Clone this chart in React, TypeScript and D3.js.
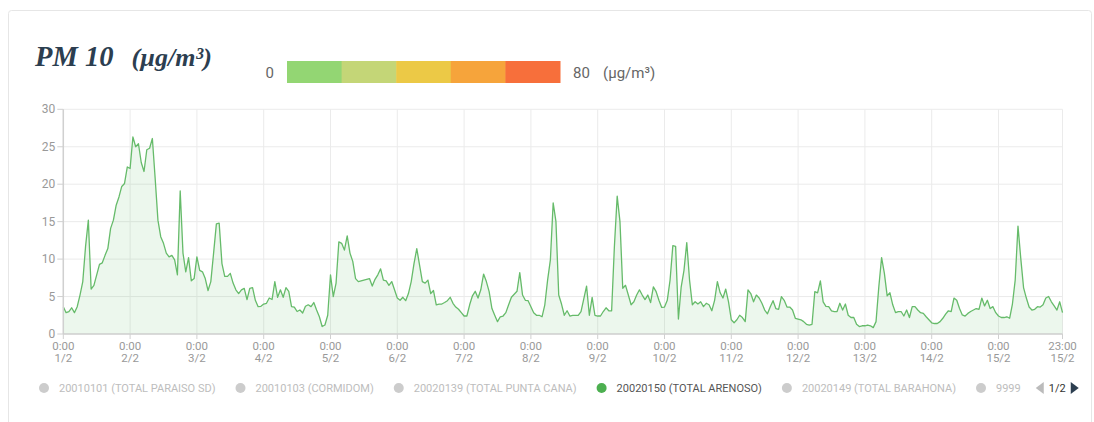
import React from 'react'
import * as d3 from 'd3'

// day labels (February), one tick at 0:00 each
const DAYS = ['1/2', '2/2', '3/2', '4/2', '5/2', '6/2', '7/2', '8/2', '9/2', '10/2', '11/2', '12/2', '13/2', '14/2', '15/2']

// hourly PM10 (µg/m³), 24 values per day
const PM10 = [
  // 1/2
  3.65, 2.85, 3.0, 3.5, 2.85, 3.65, 5.2, 7.0, 11.7, 15.2, 6.0, 6.5, 7.9, 9.3, 9.5, 10.5, 11.4, 14.1, 15.2, 17.2, 18.3, 19.7, 20.1, 22.3,
  // 2/2
  22.1, 26.3, 25.0, 25.4, 22.9, 21.7, 24.6, 24.8, 26.1, 20.8, 15.2, 13.0, 12.1, 10.8, 10.3, 10.5, 9.9, 7.9, 19.1, 10.8, 8.3, 10.2, 7.1, 7.4,
  // 3/2
  10.3, 8.5, 8.3, 7.4, 5.8, 7.0, 10.8, 14.7, 14.8, 9.4, 7.7, 7.7, 8.1, 6.8, 5.9, 5.4, 5.9, 6.1, 4.6, 6.1, 6.2, 4.5, 3.65, 3.7,
  // 4/2
  4.0, 4.1, 4.8, 4.6, 7.0, 4.9, 5.9, 4.9, 6.2, 5.7, 3.65, 3.6, 3.0, 3.2, 2.8, 3.7, 3.9, 3.65, 4.2, 3.2, 2.3, 1.0, 1.2, 2.5,
  // 5/2
  7.9, 5.0, 6.8, 12.3, 12.1, 11.2, 13.1, 10.8, 9.7, 7.4, 7.0, 7.1, 7.2, 7.3, 7.4, 6.4, 7.3, 7.9, 8.7, 7.2, 7.1, 6.5, 7.0, 5.9,
  // 6/2
  4.8, 4.5, 4.9, 4.45, 5.4, 7.0, 9.4, 11.4, 9.2, 7.0, 6.8, 7.2, 5.4, 5.8, 3.9, 4.0, 4.0, 4.2, 4.45, 4.9, 4.1, 3.6, 3.3, 2.85,
  // 7/2
  2.4, 2.4, 3.9, 5.1, 5.7, 4.8, 5.9, 8.0, 7.0, 5.65, 3.4, 2.5, 1.65, 2.3, 2.4, 2.85, 3.9, 4.9, 5.3, 5.7, 8.2, 5.2, 4.5, 4.45,
  // 8/2
  3.65, 2.85, 2.5, 2.5, 2.3, 3.9, 7.2, 9.9, 17.5, 15.0, 5.2, 4.0, 2.5, 3.1, 2.4, 2.5, 2.5, 2.5, 3.0, 4.7, 6.4, 2.5, 4.9, 2.5,
  // 9/2
  2.4, 2.4, 3.0, 3.5, 3.1, 3.1, 11.7, 18.4, 15.0, 6.1, 6.5, 5.2, 3.9, 4.3, 5.2, 5.9, 5.2, 4.6, 5.2, 4.2, 6.3, 5.65, 4.5, 3.55,
  // 10/2
  3.6, 4.5, 7.2, 11.8, 11.7, 2.0, 6.3, 8.5, 12.2, 7.2, 3.9, 4.3, 4.0, 4.3, 3.65, 4.1, 3.9, 3.1, 4.5, 7.0, 5.5, 4.8, 6.0, 4.3,
  // 11/2
  1.9, 1.5, 1.9, 2.5, 2.2, 1.65, 5.9, 5.4, 4.3, 5.2, 4.8, 4.1, 3.2, 2.7, 3.65, 4.45, 3.4, 3.3, 5.0, 4.5, 3.6, 3.6, 3.2, 2.1,
  // 12/2
  2.0, 1.9, 1.65, 1.3, 1.2, 1.3, 5.65, 5.5, 7.1, 4.3, 3.7, 3.65, 3.1, 3.0, 3.0, 4.1, 3.2, 4.0, 2.5, 2.2, 2.2, 1.3, 1.0, 1.1,
  // 13/2
  1.1, 1.2, 1.1, 0.85, 1.65, 6.3, 10.2, 8.1, 5.1, 5.5, 3.9, 2.85, 3.0, 3.0, 2.4, 3.2, 2.2, 3.65, 3.65, 3.2, 2.85, 2.75, 2.3, 1.9,
  // 14/2
  1.5, 1.4, 1.4, 1.65, 2.1, 2.65, 3.1, 3.0, 4.8, 4.5, 3.4, 2.55, 2.4, 2.75, 3.0, 3.2, 3.4, 3.3, 4.8, 3.75, 4.5, 3.4, 3.65, 2.85,
  // 15/2
  2.4, 2.2, 2.2, 2.3, 2.1, 4.0, 7.2, 14.4, 10.1, 6.2, 4.8, 3.6, 3.2, 3.3, 3.65, 3.6, 3.9, 4.8, 5.0, 4.3, 3.75, 3.2, 4.3, 2.85,
]

const Y_TICKS = [0, 5, 10, 15, 20, 25, 30]

const BAND_COLORS = ['#93d673', '#c4d677', '#ecc946', '#f6a43b', '#f76f3b']

const STATIONS = [
  '20010101 (TOTAL PARAISO SD)',
  '20010103 (CORMIDOM)',
  '20020139 (TOTAL PUNTA CANA)',
  '20020150 (TOTAL ARENOSO)',
  '20020149 (TOTAL BARAHONA)',
  '9999',
]
const ACTIVE = '20020150 (TOTAL ARENOSO)'

const FONT = 'Roboto, "Noto Sans", sans-serif'

function measure(text: string, font: string) {
  const c = document.createElement('canvas').getContext('2d')
  if (!c) return text.length * 6
  c.font = font
  return c.measureText(text).width
}

export default function App() {
  const m = { left: 63.3, top: 109.3, bottom: 334 }
  const pxPerDay = 66.8
  const lastHour = PM10.length - 1

  const x = d3.scaleLinear().domain([0, lastHour]).range([m.left, m.left + (lastHour * pxPerDay) / 24])
  const y = d3.scaleLinear().domain([0, 30]).range([m.bottom, m.top])
  const right = x(lastHour)

  const line = d3.line<number>().x((_, i) => x(i)).y(d => y(d))
  const area = d3.area<number>().x((_, i) => x(i)).y0(y(0)).y1(d => y(d))

  const xTicks = [
    ...DAYS.map((d, i) => ({ h: i * 24, t: '0:00', d })),
    { h: lastHour, t: '23:00', d: DAYS[DAYS.length - 1] },
  ]

  const band = d3.scaleBand<number>().domain(BAND_COLORS.map((_, i) => i)).range([287, 560])

  // legend layout
  let lx = 44
  let textEnd = 0
  const legend = STATIONS.map(s => {
    const w = measure(s, `11px ${FONT}`)
    const item = { s, cx: lx, tx: lx + 15 }
    textEnd = lx + 15 + w
    lx = textEnd + 25
    return item
  })
  const pagerX = textEnd + 15

  return (
    <div style={{ position: 'absolute', left: 0, top: 0 }}>
      <svg width={1094} height={422} style={{ display: 'block', fontFamily: FONT }}>
        <rect x={0} y={0} width={1094} height={422} fill="#fff" />
        <rect x={8.5} y={10.5} width={1083} height={440} rx={3} fill="#fff" stroke="#e6e6e6" />

        {/* title */}
        <text x={35} y={66} fontFamily='"Liberation Serif", "DejaVu Serif", serif' fontWeight="bold" fontStyle="italic" fontSize={28.5} fill="#2c3e50">
          PM 10
          <tspan dx={18} fontSize={26}>(µg/m³)</tspan>
        </text>

        {/* colour scale */}
        {BAND_COLORS.map((c, i) => (
          <rect key={i} x={band(i)} y={61} width={band.bandwidth() + 0.5} height={22} fill={c} />
        ))}
        <text x={274} y={78} textAnchor="end" fontSize={15} fill="#666">0</text>
        <text x={573} y={78} fontSize={15} fill="#666">80</text>
        <text x={603} y={78} fontSize={15} fill="#666">(µg/m³)</text>

        {/* grid */}
        {Y_TICKS.map(t => (
          <line key={t} x1={m.left} x2={right} y1={y(t)} y2={y(t)} stroke="#ebebeb" />
        ))}
        {xTicks.map(t => (
          <line key={t.h} x1={x(t.h)} x2={x(t.h)} y1={m.top} y2={m.bottom} stroke="#ebebeb" />
        ))}

        {/* series */}
        <path d={area(PM10) ?? ''} fill="#66bb6a" fillOpacity={0.12} />
        <path d={line(PM10) ?? ''} fill="none" stroke="#66bb6a" strokeWidth={1.3} strokeLinejoin="round" />

        {/* axes */}
        <line x1={m.left} x2={m.left} y1={m.top} y2={m.bottom} stroke="#d0d0d0" strokeWidth={1.5} />
        <line x1={m.left} x2={right} y1={m.bottom} y2={m.bottom} stroke="#d0d0d0" strokeWidth={1.5} />
        {Y_TICKS.map(t => (
          <g key={t}>
            <line x1={m.left - 6} x2={m.left} y1={y(t)} y2={y(t)} stroke="#d0d0d0" />
            <text x={m.left - 8} y={y(t) + 4} textAnchor="end" fontSize={12} fill="#999">{t}</text>
          </g>
        ))}
        {xTicks.map(t => (
          <g key={t.h}>
            <line x1={x(t.h)} x2={x(t.h)} y1={m.bottom} y2={m.bottom + 5} stroke="#d0d0d0" />
            <text x={x(t.h)} y={m.bottom + 16} textAnchor="middle" fontSize={11.5} fill="#999">{t.t}</text>
            <text x={x(t.h)} y={m.bottom + 28} textAnchor="middle" fontSize={11.5} fill="#999">{t.d}</text>
          </g>
        ))}

        {/* legend */}
        {legend.map(l => (
          <g key={l.s}>
            <circle cx={l.cx} cy={388} r={5} fill={l.s === ACTIVE ? '#4caf50' : '#cccccc'} />
            <text x={l.tx} y={392} fontSize={11} fill={l.s === ACTIVE ? '#555' : '#bdbdbd'}>{l.s}</text>
          </g>
        ))}
        <path d={`M${pagerX + 8},382 L${pagerX},388 L${pagerX + 8},394 Z`} fill="#bbb" />
        <text x={pagerX + 13} y={392} fontSize={11} fill="#333">1/2</text>
        <path d={`M${pagerX + 35},382 L${pagerX + 43},388 L${pagerX + 35},394 Z`} fill="#2c3e50" />
      </svg>
    </div>
  )
}
